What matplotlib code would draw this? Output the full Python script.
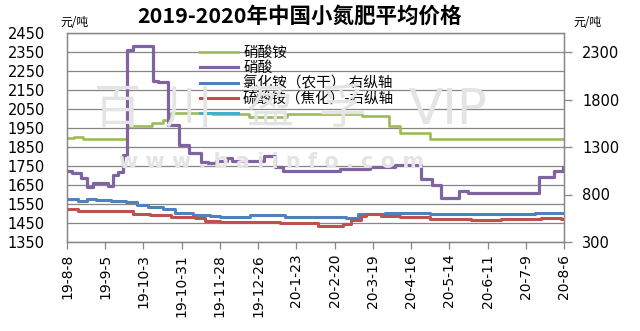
import matplotlib
matplotlib.use('Agg')
import matplotlib.pyplot as plt
import pandas as pd
from matplotlib.lines import Line2D
from matplotlib.font_manager import FontProperties

# ---------------- data ----------------
title = '2019-2020年中国小氮肥平均价格'
unit = '元/吨'
series_labels = ['硝酸铵', '硝酸', '氯化铵（农干） 右纵轴', '硫酸铵（焦化）-右纵轴', '']
series_colors = ['#9BBB59', '#8064A2', '#4F81BD', '#C0504D', '#4BACC6']

# 硝酸铵 (left axis) - change points
an_dates = ['2019-08-08', '2019-08-13', '2019-08-20', '2019-09-21', '2019-10-09',
            '2019-10-17', '2019-10-23', '2019-11-22', '2019-12-19', '2020-01-16',
            '2020-03-11', '2020-03-31', '2020-04-08', '2020-04-30', '2020-08-06']
an_values = [1900, 1905, 1890, 1960, 1975, 1992, 2030, 2022, 2008, 2022,
             2015, 1960, 1925, 1890, 1890]

# 硝酸 (left axis)
na_dates = ['2019-08-08', '2019-08-12', '2019-08-18', '2019-08-23', '2019-08-27',
            '2019-09-07', '2019-09-11', '2019-09-14', '2019-09-18', '2019-09-21',
            '2019-09-25', '2019-10-10', '2019-10-14', '2019-10-21', '2019-10-29',
            '2019-11-05', '2019-11-14', '2019-11-19', '2019-11-25', '2019-12-03',
            '2019-12-07', '2019-12-30', '2020-01-07', '2020-01-13', '2020-02-24',
            '2020-03-17', '2020-04-04', '2020-04-23', '2020-05-01', '2020-05-08',
            '2020-05-21', '2020-05-28', '2020-07-19', '2020-07-30', '2020-08-05',
            '2020-08-06']
na_values = [1725, 1712, 1687, 1641, 1659, 1646, 1703, 1720, 1808, 2360,
             2382, 2200, 2190, 1966, 1860, 1817, 1773, 1764, 1778, 1790,
             1778, 1803, 1746, 1725, 1733, 1746, 1755, 1680, 1652, 1580,
             1620, 1607, 1694, 1725, 1746, 1746]

# 氯化铵（农干） (right axis)
ac_dates = ['2019-08-08', '2019-08-16', '2019-08-23', '2019-08-29', '2019-09-09',
            '2019-09-20', '2019-09-28', '2019-10-06', '2019-10-17', '2019-10-26',
            '2019-11-08', '2019-11-21', '2019-11-28', '2019-12-20', '2020-01-15',
            '2020-02-28', '2020-03-08', '2020-03-28', '2020-04-30', '2020-07-16',
            '2020-08-06']
ac_values = [752, 735, 752, 742, 731, 721, 690, 672, 647, 608,
             584, 574, 567, 584, 567, 553, 595, 608, 595, 608, 608]

# 硫酸铵（焦化） (right axis)
as_dates = ['2019-08-08', '2019-08-16', '2019-08-29', '2019-09-25', '2019-10-08',
            '2019-10-23', '2019-11-10', '2019-11-17', '2019-11-28', '2020-01-11',
            '2020-02-08', '2020-02-26', '2020-03-03', '2020-03-10', '2020-03-14',
            '2020-03-25', '2020-04-08', '2020-04-30', '2020-05-30', '2020-06-21',
            '2020-07-20', '2020-08-04', '2020-08-06']
as_values = [644, 630, 623, 595, 584, 567, 550, 524, 507, 497,
             472, 486, 532, 574, 595, 577, 560, 542, 532, 542, 556, 542, 542]

x_start, x_end = '2019-08-08', '2020-08-06'
tick_labels = ['19-8-8', '19-9-5', '19-10-3', '19-10-31', '19-11-28', '19-12-26',
               '20-1-23', '20-2-20', '20-3-19', '20-4-16', '20-5-14', '20-6-11',
               '20-7-9', '20-8-6']
left_ticks = list(range(1350, 2451, 100))
right_ticks = [300, 800, 1300, 1800, 2300]
left_lim = (1350, 2450)
right_lim = (300, 2500)

# ---------------- figure ----------------
W, H = 640, 331
fig = plt.figure(figsize=(W / 100, H / 100), dpi=100)
L, R, T, B = 67, 564, 33, 242
ax = fig.add_axes([L / W, 1 - B / H, (R - L) / W, (B - T) / H])
ax2 = ax.twinx()

grid_c = '#868686'
cjk = ['Noto Sans CJK SC', 'DejaVu Sans']

# watermark (light gray, behind the data)
wm_c = '#e4e4e4'
for ch, xc in zip(['百', '川', '盈', '孚'], [118, 188, 270, 342]):
    fig.text(xc / W, 1 - 110 / H, ch, family=cjk, fontsize=34, color=wm_c,
             ha='center', va='center', zorder=0)
fig.text(448 / W, 1 - 110 / H, 'VIP', family='DejaVu Sans', fontsize=36,
         color=wm_c, ha='center', va='center', zorder=0)
fig.text(272 / W, 1 - 162 / H, 'w w w . b a i i n f o . c o m', family='DejaVu Sans',
         fontsize=15, fontweight='bold', color=wm_c, ha='center', va='center', zorder=0)

ax.patch.set_alpha(0)
ax2.patch.set_alpha(0)

def dt(lst):
    return pd.to_datetime(lst)

l1, = ax.plot(dt(an_dates), an_values, drawstyle='steps-post', color=series_colors[0], lw=1.9)
l2, = ax.plot(dt(na_dates), na_values, drawstyle='steps-post', color=series_colors[1], lw=2.3)
l3, = ax2.plot(dt(ac_dates), ac_values, drawstyle='steps-post', color=series_colors[2], lw=2.2)
l4, = ax2.plot(dt(as_dates), as_values, drawstyle='steps-post', color=series_colors[3], lw=2.2)
l5 = Line2D([], [], color=series_colors[4], lw=2.2)

ax.set_xlim(pd.Timestamp(x_start), pd.Timestamp(x_end))
ax.set_ylim(*left_lim)
ax2.set_ylim(*right_lim)

ticks = pd.date_range(x_start, x_end, freq='28D')
ax.set_xticks(ticks)
ax.set_xticklabels(tick_labels, rotation=90, fontsize=10, family='DejaVu Sans')
ax.set_yticks(left_ticks)
ax.set_yticklabels([str(v) for v in left_ticks], fontsize=10.5, family='DejaVu Sans')
ax2.set_yticks(right_ticks)
ax2.set_yticklabels([str(v) for v in right_ticks], fontsize=10.5, family='DejaVu Sans')

ax.grid(axis='y', color=grid_c, lw=0.9)
ax.set_axisbelow(True)
ax.tick_params(axis='x', length=5, width=0.9, color=grid_c, pad=3.5, direction='out')
ax.tick_params(axis='y', length=0, pad=16)
ax2.tick_params(axis='y', length=6, width=0.9, color=grid_c, pad=7)
for a in (ax, ax2):
    for s in a.spines.values():
        s.set_color(grid_c)
        s.set_linewidth(0.9)

leg = ax2.legend([l1, l2, l3, l4, l5], series_labels, loc='upper left',
                 bbox_to_anchor=((200 - L) / (R - L), 1 - (46 - T) / (B - T)),
                 frameon=False, borderpad=0, borderaxespad=0, handlelength=2.6,
                 handletextpad=0.35, labelspacing=0.08,
                 prop=FontProperties(family=cjk, size=10.5))

fig.text(300 / W, 1 - 16 / H, title, family=cjk, fontsize=15.5, fontweight='bold',
         ha='center', va='center')
fig.text(60 / W, 1 - 22 / H, unit, family=cjk, fontsize=8.5, ha='left', va='center')
fig.text(573 / W, 1 - 22 / H, unit, family=cjk, fontsize=8.5, ha='left', va='center')

fig.savefig('out.png', dpi=100)
